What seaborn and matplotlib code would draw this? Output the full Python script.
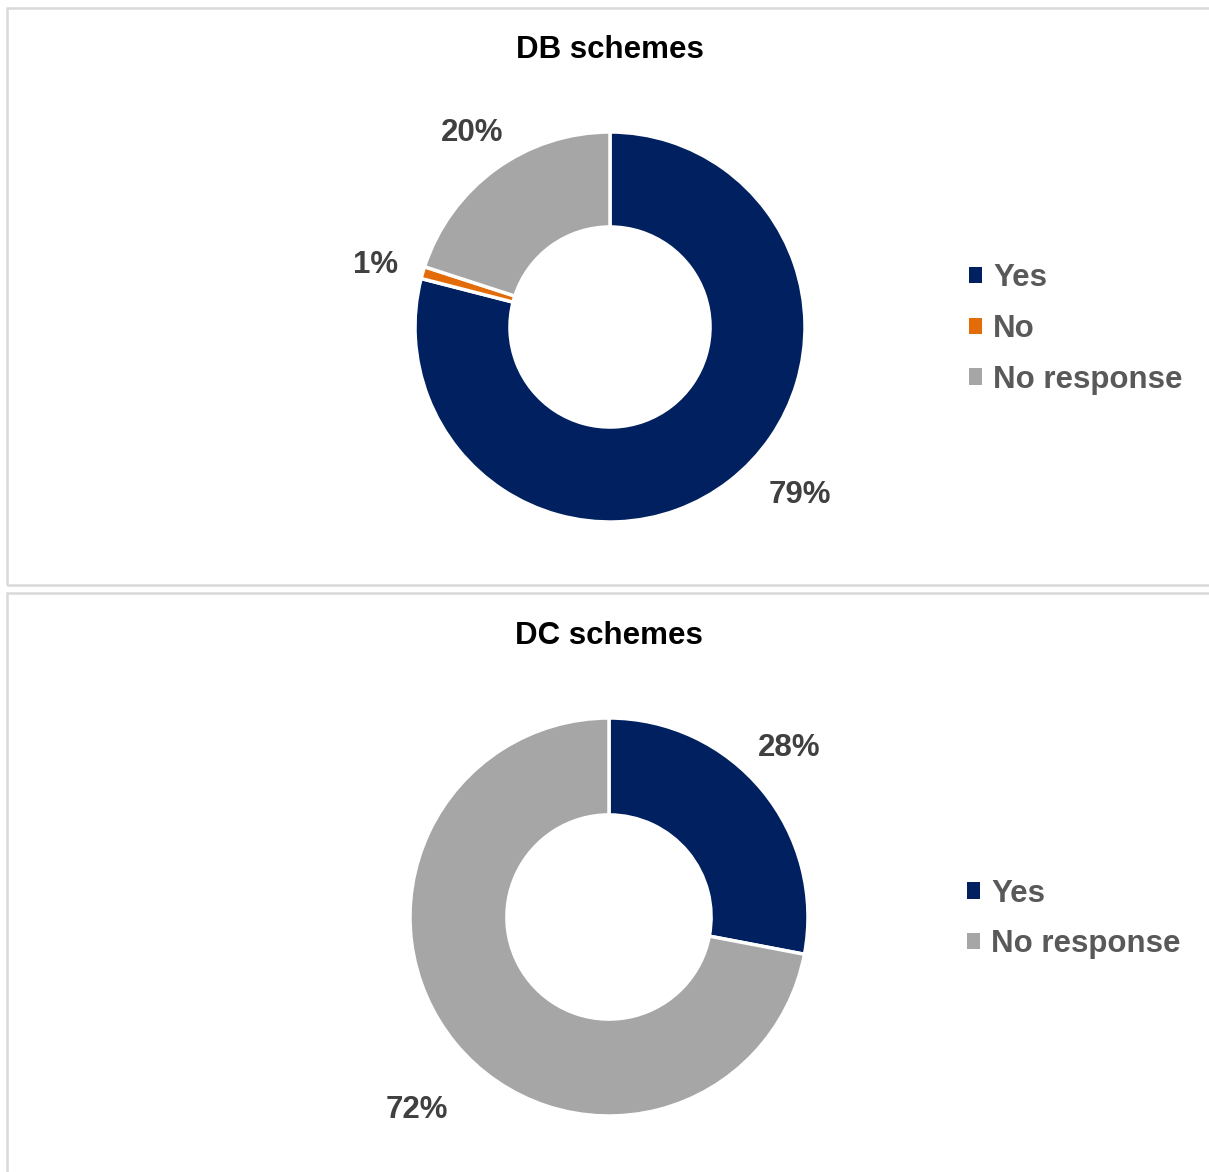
import matplotlib
matplotlib.use("Agg")
import matplotlib.pyplot as plt
from matplotlib.patches import Rectangle, Patch
import numpy as np
import seaborn as sns

# data
db_labels = ["Yes", "No", "No response"]
db_values = [79, 1, 20]
dc_labels = ["Yes", "No response"]
dc_values = [28, 72]

colors = {"Yes": "#002060", "No": "#E36C09", "No response": "#A6A6A6"}

sns.set_theme(style="white")
plt.rcParams["font.family"] = ["Liberation Sans", "DejaVu Sans"]
plt.rcParams["font.weight"] = "bold"

W, H = 1209, 1172
fig = plt.figure(figsize=(W / 100, H / 100), dpi=100)

# panel frames (right/bottom edges run off the image)
for (x0, y0, y1) in [(7, 8, 585), (7, 593, 1190)]:
    fig.patches.append(Rectangle((x0 / W, 1 - y1 / H), (W + 30 - x0) / W, (y1 - y0) / H,
                                 transform=fig.transFigure, fill=False,
                                 edgecolor="#D9D9D9", linewidth=1.8))

FS = 22.5


def donut(cx, cy, r, title, ty, labels, values, lbl_pos, leg_x):
    ax = fig.add_axes([(cx - r) / W, 1 - (cy + r) / H, 2 * r / W, 2 * r / H])
    cols = [colors[l] for l in labels]
    ax.pie(values, colors=cols, startangle=90, counterclock=False,
           wedgeprops=dict(width=0.487, edgecolor="white", linewidth=2.5))
    ax.set_xlim(-1, 1)
    ax.set_ylim(-1, 1)
    ax.set_aspect("equal")
    ax.axis("off")
    for v, (ang, rad) in zip(values, lbl_pos):
        a = np.deg2rad(ang)
        ax.text(rad * np.cos(a), rad * np.sin(a) - 0.015, f"{v}%", ha="center", va="center",
                fontsize=FS, fontweight="bold", color="#404040")
    fig.text(cx / W, 1 - ty / H, title, ha="center", va="center",
             fontsize=FS, fontweight="bold", color="black")
    handles = [Patch(facecolor=c, edgecolor="none") for c in cols]
    leg = fig.legend(handles, labels, loc="center left", bbox_to_anchor=(leg_x / W, 1 - (cy + 2) / H),
                     frameon=False, fontsize=FS, handlelength=0.42, handleheight=0.42,
                     handletextpad=0.35, labelspacing=0.66, borderpad=0, borderaxespad=0)
    for t in leg.get_texts():
        t.set_color("#595959")
        t.set_fontweight("bold")


donut(610, 327, 195, "DB schemes", 50, db_labels, db_values,
      [(-41, 1.29), (164.5, 1.245), (125, 1.233)], 969)
donut(609, 917, 199, "DC schemes", 636, dc_labels, dc_values,
      [(43.7, 1.25), (-135.3, 1.357)], 967)

fig.savefig("out.png", dpi=100, facecolor="white")
